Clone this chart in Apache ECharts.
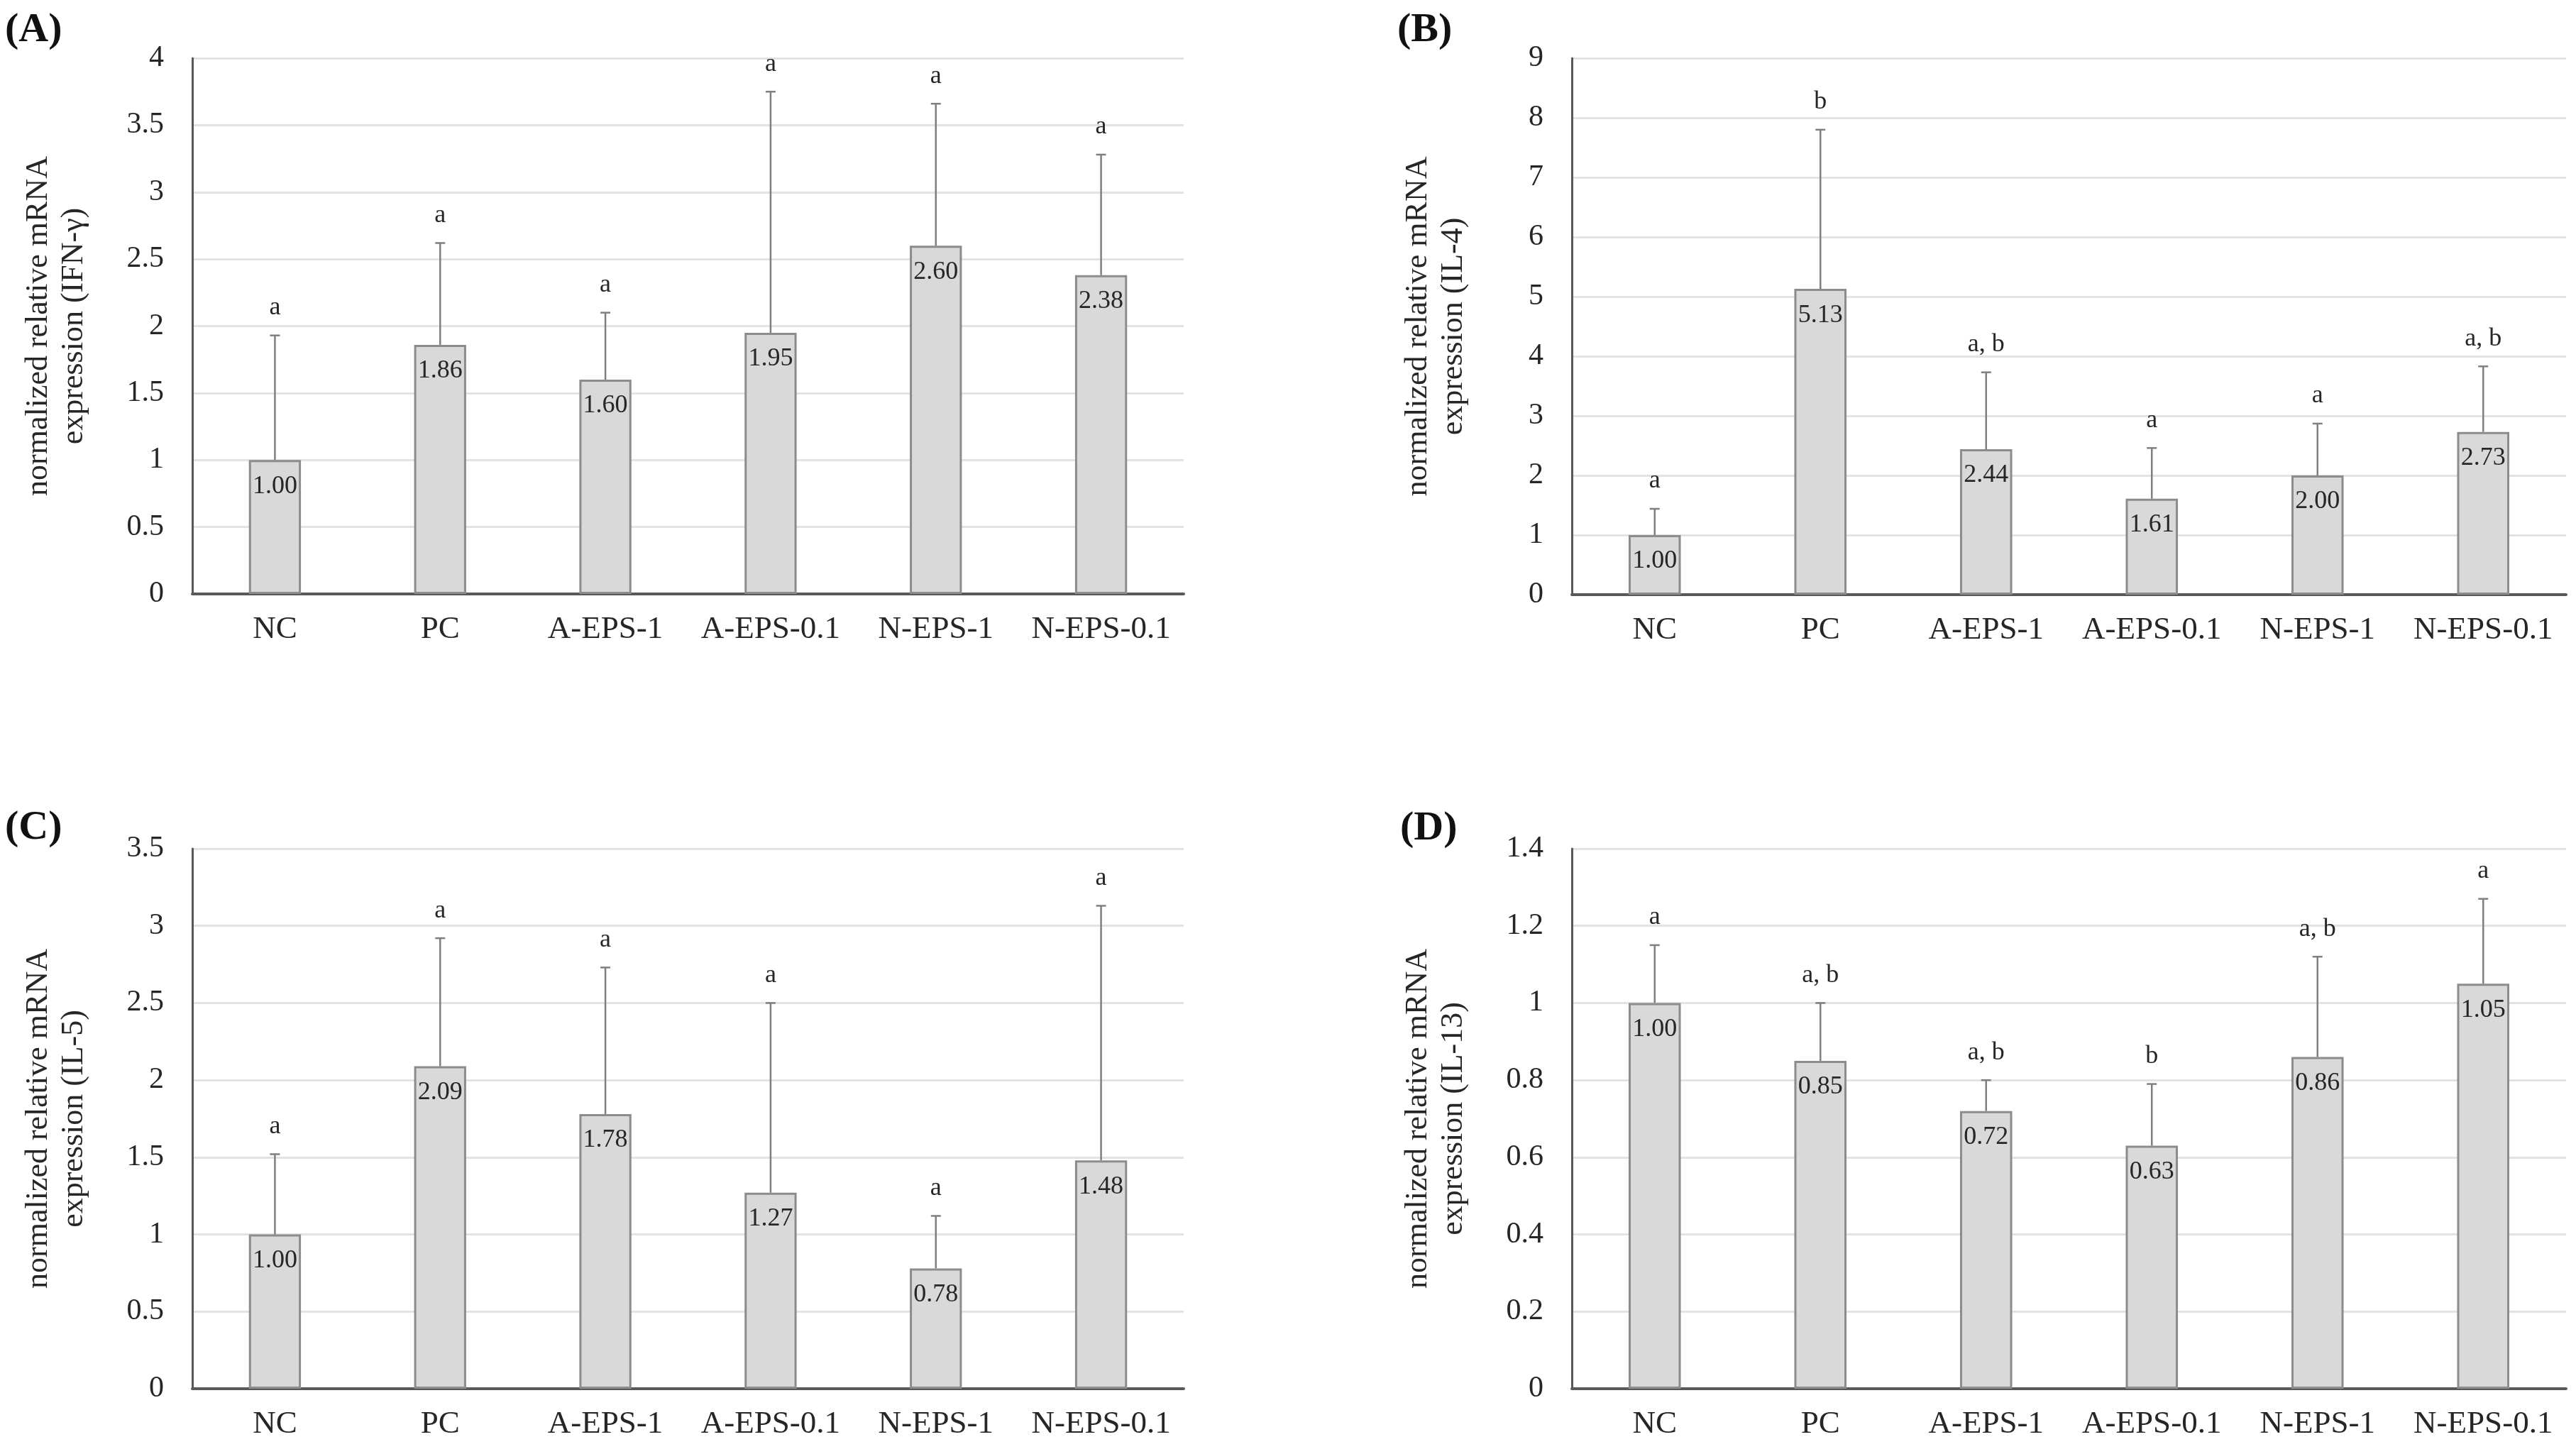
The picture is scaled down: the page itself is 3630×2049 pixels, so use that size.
<!DOCTYPE html>
<html>
<head>
<meta charset="utf-8">
<title>mRNA expression</title>
<script src="https://cdn.jsdelivr.net/npm/echarts@6/dist/echarts.min.js"></script>
<style>
  html, body { margin: 0; padding: 0; background: #fff; }
  #chart { width: 3630px; height: 2049px; }
</style>
</head>
<body>
<div id="chart"></div>
<script>
// groups on the x axis, same for all four panels
const categories = ['NC', 'PC', 'A-EPS-1', 'A-EPS-0.1', 'N-EPS-1', 'N-EPS-0.1'];

// (A) IFN-γ
const ifngMean = [1.00, 1.86, 1.60, 1.95, 2.60, 2.38];
const ifngUpper = [1.93, 2.62, 2.10, 3.75, 3.66, 3.28];
const ifngGroup = ['a', 'a', 'a', 'a', 'a', 'a'];

// (B) IL-4
const il4Mean = [1.00, 5.13, 2.44, 1.61, 2.00, 2.73];
const il4Upper = [1.44, 7.80, 3.73, 2.46, 2.87, 3.83];
const il4Group = ['a', 'b', 'a, b', 'a', 'a', 'a, b'];

// (C) IL-5
const il5Mean = [1.00, 2.09, 1.78, 1.27, 0.78, 1.48];
const il5Upper = [1.52, 2.92, 2.73, 2.50, 1.12, 3.13];
const il5Group = ['a', 'a', 'a', 'a', 'a', 'a'];

// (D) IL-13
const il13Mean = [1.00, 0.85, 0.72, 0.63, 0.86, 1.05];
const il13Upper = [1.15, 1.00, 0.80, 0.79, 1.12, 1.27];
const il13Group = ['a', 'a, b', 'a, b', 'b', 'a, b', 'a'];

const SERIF = '"Liberation Serif", "Times New Roman", serif';

const panels = [
  { tag: '(A)', gene: 'IFN-γ', mean: ifngMean, upper: ifngUpper, group: ifngGroup, max: 4, step: 0.5,
    grid: { left: 271, right: 1962, top: 82, bottom: 1212 }, tagPos: [7, 47] },
  { tag: '(B)', gene: 'IL-4', mean: il4Mean, upper: il4Upper, group: il4Group, max: 9, step: 1,
    grid: { left: 2215, right: 14, top: 82, bottom: 1211 }, tagPos: [1969, 47] },
  { tag: '(C)', gene: 'IL-5', mean: il5Mean, upper: il5Upper, group: il5Group, max: 3.5, step: 0.5,
    grid: { left: 271, right: 1962, top: 1196, bottom: 92 }, tagPos: [7, 1171] },
  { tag: '(D)', gene: 'IL-13', mean: il13Mean, upper: il13Upper, group: il13Group, max: 1.4, step: 0.2,
    grid: { left: 2215, right: 14, top: 1196, bottom: 92 }, tagPos: [1973, 1172] }
];

const grids = [], xAxes = [], yAxes = [], series = [], graphics = [];

panels.forEach(function (p, k) {
  grids.push(p.grid);

  xAxes.push({
    type: 'category',
    gridIndex: k,
    data: categories,
    axisLine: { lineStyle: { color: '#595959', width: 4 } },
    axisTick: { show: false },
    axisLabel: { fontFamily: SERIF, fontSize: 45, color: '#262626', margin: 28, interval: 0 }
  });

  yAxes.push({
    type: 'value',
    gridIndex: k,
    min: 0,
    max: p.max,
    interval: p.step,
    name: 'normalized relative mRNA\nexpression (' + p.gene + ')',
    nameLocation: 'middle',
    nameRotate: 90,
    nameGap: 142,
    nameTextStyle: { fontFamily: SERIF, fontSize: 44, lineHeight: 50, color: '#262626' },
    axisLine: { show: true, lineStyle: { color: '#595959', width: 3 } },
    axisTick: { show: false },
    axisLabel: {
      fontFamily: SERIF, fontSize: 42, color: '#262626', margin: 40,
      formatter: function (v) { return String(Math.round(v * 10) / 10); }
    },
    splitLine: { lineStyle: { color: '#e3e3e3', width: 3 } }
  });

  series.push({
    type: 'bar',
    xAxisIndex: k,
    yAxisIndex: k,
    data: p.mean,
    barWidth: '31.5%',
    itemStyle: { color: '#d9d9d9', borderColor: '#8c8c8c', borderWidth: 3 },
    label: {
      show: true,
      position: 'insideTop',
      distance: 19,
      fontFamily: SERIF,
      fontSize: 36,
      color: '#262626',
      formatter: function (d) { return d.value.toFixed(2); }
    },
    silent: true,
    z: 2
  });

  // upper error bar + significance letters
  series.push({
    type: 'custom',
    xAxisIndex: k,
    yAxisIndex: k,
    data: p.upper.map(function (u, i) { return [i, p.mean[i], u]; }),
    renderItem: function (params, api) {
      const base = api.coord([api.value(0), api.value(1)]);
      const top = api.coord([api.value(0), api.value(2)]);
      const cap = 7;
      const st = { stroke: '#7f7f7f', lineWidth: 2.5 };
      return {
        type: 'group',
        children: [
          { type: 'line', shape: { x1: top[0], y1: base[1], x2: top[0], y2: top[1] }, style: st },
          { type: 'line', shape: { x1: top[0] - cap, y1: top[1], x2: top[0] + cap, y2: top[1] }, style: st },
          {
            type: 'text',
            x: top[0],
            y: top[1] - 39,
            style: {
              text: p.group[params.dataIndex],
              fontFamily: SERIF,
              fontSize: 36,
              fill: '#262626',
              align: 'center',
              verticalAlign: 'middle'
            }
          }
        ]
      };
    },
    silent: true,
    z: 3
  });

  graphics.push({
    type: 'text',
    left: p.tagPos[0],
    top: p.tagPos[1] - 33,
    style: { text: p.tag, fontFamily: SERIF, fontSize: 58, fontWeight: 'bold', fill: '#111' }
  });
});

const myChart = echarts.init(document.getElementById('chart'));
myChart.setOption({
  backgroundColor: '#ffffff',
  animation: false,
  grid: grids,
  xAxis: xAxes,
  yAxis: yAxes,
  series: series,
  graphic: graphics
});
</script>
</body>
</html>
